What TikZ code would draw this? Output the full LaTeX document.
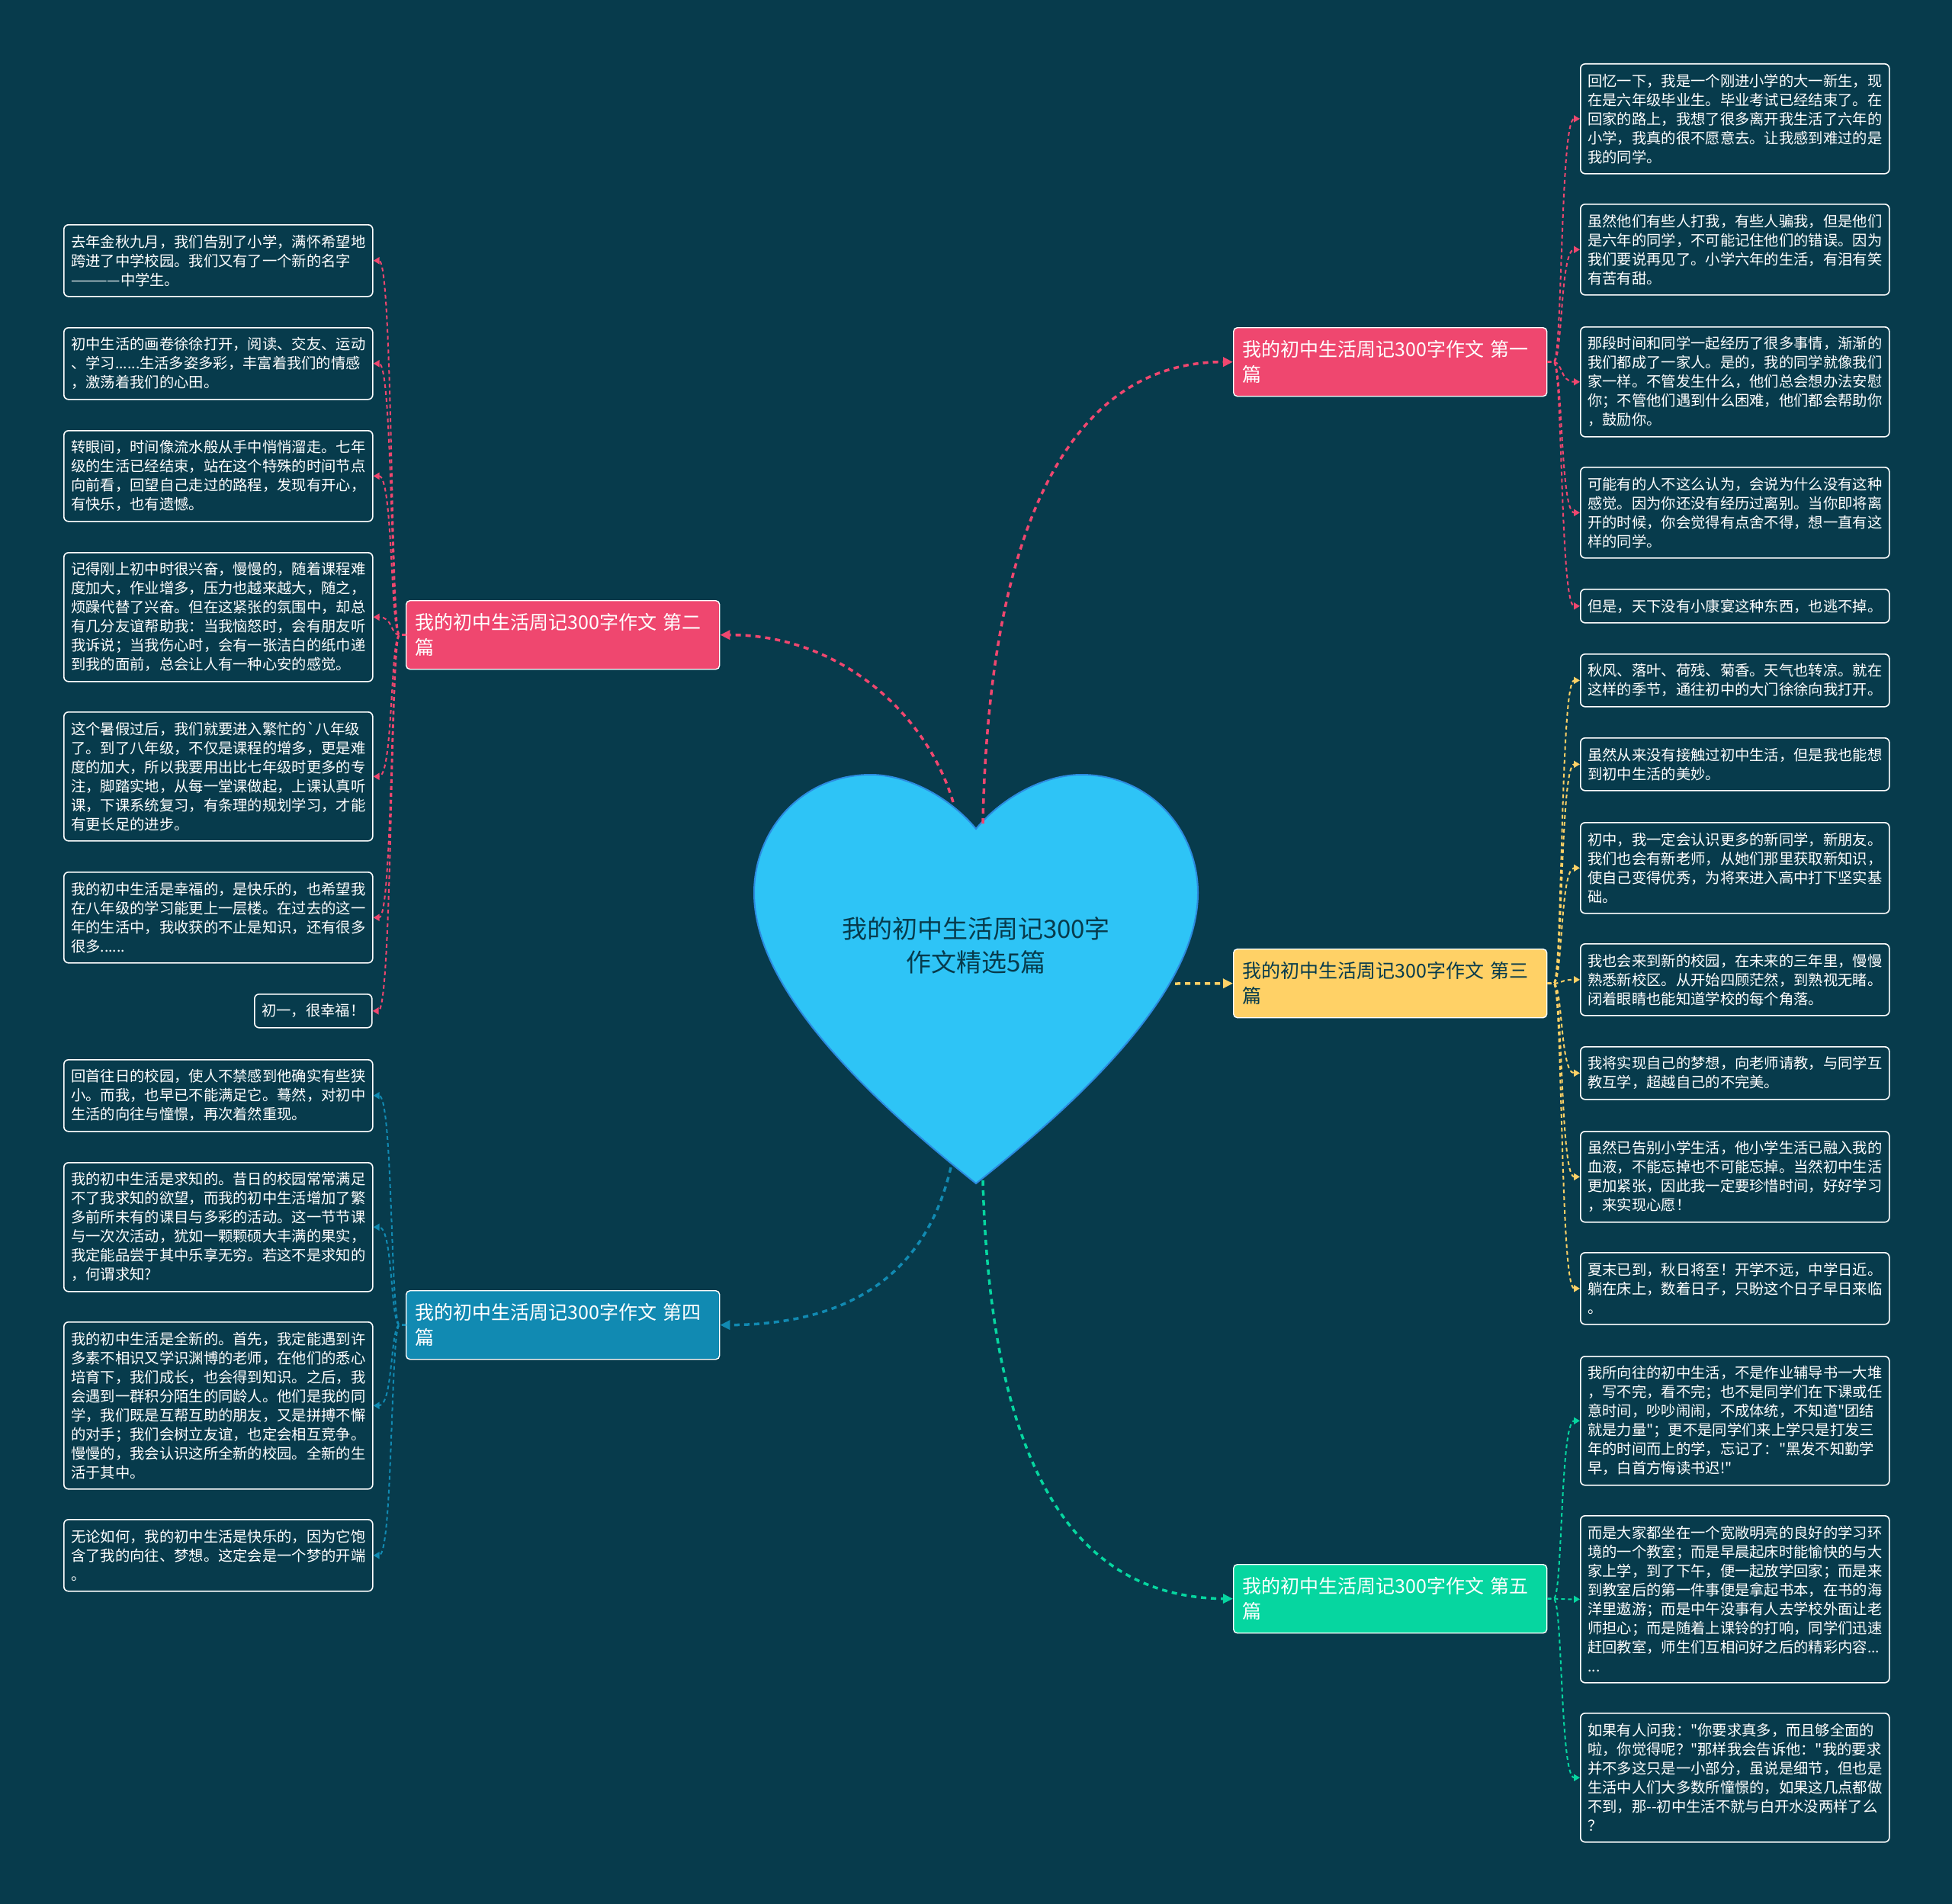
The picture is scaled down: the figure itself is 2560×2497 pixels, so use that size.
\documentclass[tikz,border=0pt]{standalone}
\usepackage{fontspec}
\setmainfont{Noto Sans CJK SC}[Ligatures=TeXOff]
\usetikzlibrary{arrows.meta}
\definecolor{bg}{HTML}{073B4C}
\definecolor{cpink}{HTML}{EF476F}
\definecolor{cyel}{HTML}{FFD166}
\definecolor{cgreen}{HTML}{06D6A0}
\definecolor{cblue}{HTML}{118AB2}
\definecolor{heartfill}{HTML}{2EC4F6}
\definecolor{heartline}{HTML}{2C8BE0}
\begin{document}
\begin{tikzpicture}[x=1pt,y=-1pt,
  leaf/.style={draw=white, line width=1.6pt, rounded corners=6pt, text=white,
    font=\fontsize{19.3pt}{25pt}\selectfont, align=left, anchor=north west,
    minimum width=405pt, minimum height={25*#1+19}, inner xsep=9pt, inner ysep=0pt},
  branch/.style={draw=white, line width=1.4pt, rounded corners=5pt, fill=#1, text=white,
    font=\fontsize{25pt}{33pt}\selectfont, align=left, anchor=north west,
    minimum width=411pt, minimum height=90pt, text width=387pt, inner xsep=12pt, inner ysep=0pt},
  hub/.style={line width=3.5pt, dash pattern=on 7pt off 6pt, -{Triangle[length=13pt,width=12pt]}},
  twig/.style={line width=2pt, dash pattern=on 5pt off 4pt, -{Triangle[length=8pt,width=9pt]}},
]
\fill[bg] (0,0) rectangle (2560,2497);
\useasboundingbox (0,0) rectangle (2560,2497);

% heart
\draw[fill=heartfill, draw=heartline, line width=2pt]
  (1280,1087) .. controls (1315,1045) and (1370,1016) .. (1418,1016)
  .. controls (1510,1016) and (1571,1090) .. (1571,1171)
  .. controls (1571,1290) and (1440,1425) .. (1280,1552)
  .. controls (1120,1425) and (989,1290) .. (989,1171)
  .. controls (989,1090) and (1050,1016) .. (1142,1016)
  .. controls (1190,1016) and (1245,1045) .. (1280,1087) -- cycle;
\node[text=bg, font=\fontsize{33pt}{44pt}\selectfont, align=center] (heart) at (1280,1240)
  {我的初中生活周记300字\\作文精选5篇};
\coordinate (h1) at (1289,1080);
\coordinate (h2) at (1250,1052);
\coordinate (h3) at (1541,1290);
\coordinate (h4) at (1247,1531);
\coordinate (h5) at (1289,1548);

% branches
\node[branch=cpink] (b1) at (1617,429) {我的初中生活周记300字作文 第一\\篇};
\node[branch=cpink] (b2) at (532,787) {我的初中生活周记300字作文 第二\\篇};
\node[branch=cyel, text=bg] (b3) at (1617,1244) {我的初中生活周记300字作文 第三\\篇};
\node[branch=cblue] (b4) at (532,1692) {我的初中生活周记300字作文 第四\\篇};
\node[branch=cgreen] (b5) at (1617,2051) {我的初中生活周记300字作文 第五\\篇};

% right leaves
\node[leaf=5] (r1) at (2072,83) {回忆一下，我是一个刚进小学的大一新生，现\\在是六年级毕业生。毕业考试已经结束了。在\\回家的路上，我想了很多离开我生活了六年的\\小学，我真的很不愿意去。让我感到难过的是\\我的同学。};
\node[leaf=4] (r2) at (2072,267) {虽然他们有些人打我，有些人骗我，但是他们\\是六年的同学，不可能记住他们的错误。因为\\我们要说再见了。小学六年的生活，有泪有笑\\有苦有甜。};
\node[leaf=5] (r3) at (2072,428) {那段时间和同学一起经历了很多事情，渐渐的\\我们都成了一家人。是的，我的同学就像我们\\家一样。不管发生什么，他们总会想办法安慰\\你；不管他们遇到什么困难，他们都会帮助你\\，鼓励你。};
\node[leaf=4] (r4) at (2072,612) {可能有的人不这么认为，会说为什么没有这种\\感觉。因为你还没有经历过离别。当你即将离\\开的时候，你会觉得有点舍不得，想一直有这\\样的同学。};
\node[leaf=1] (r5) at (2072,772) {但是，天下没有小康宴这种东西，也逃不掉。};
\node[leaf=2] (r6) at (2072,857) {秋风、落叶、荷残、菊香。天气也转凉。就在\\这样的季节，通往初中的大门徐徐向我打开。};
\node[leaf=2] (r7) at (2072,967) {虽然从来没有接触过初中生活，但是我也能想\\到初中生活的美妙。};
\node[leaf=4] (r8) at (2072,1078) {初中，我一定会认识更多的新同学，新朋友。\\我们也会有新老师，从她们那里获取新知识，\\使自己变得优秀，为将来进入高中打下坚实基\\础。};
\node[leaf=3] (r9) at (2072,1237) {我也会来到新的校园，在未来的三年里，慢慢\\熟悉新校区。从开始四顾茫然，到熟视无睹。\\闭着眼睛也能知道学校的每个角落。};
\node[leaf=2] (r10) at (2072,1372) {我将实现自己的梦想，向老师请教，与同学互\\教互学，超越自己的不完美。};
\node[leaf=4] (r11) at (2072,1483) {虽然已告别小学生活，他小学生活已融入我的\\血液，不能忘掉也不可能忘掉。当然初中生活\\更加紧张，因此我一定要珍惜时间，好好学习\\，来实现心愿！};
\node[leaf=3] (r12) at (2072,1642) {夏末已到，秋日将至！开学不远，中学日近。\\躺在床上，数着日子，只盼这个日子早日来临\\。};
\node[leaf=6] (r13) at (2072,1778) {我所向往的初中生活，不是作业辅导书一大堆\\，写不完，看不完；也不是同学们在下课或任\\意时间，吵吵闹闹，不成体统，不知道"团结\\就是力量"；更不是同学们来上学只是打发三\\年的时间而上的学，忘记了："黑发不知勤学\\早，白首方悔读书迟!"};
\node[leaf=8] (r14) at (2072,1987) {而是大家都坐在一个宽敞明亮的良好的学习环\\境的一个教室；而是早晨起床时能愉快的与大\\家上学，到了下午，便一起放学回家；而是来\\到教室后的第一件事便是拿起书本，在书的海\\洋里遨游；而是中午没事有人去学校外面让老\\师担心；而是随着上课铃的打响，同学们迅速\\赶回教室，师生们互相问好之后的精彩内容...\\...};
\node[leaf=6] (r15) at (2072,2246) {如果有人问我："你要求真多，而且够全面的\\啦，你觉得呢？"那样我会告诉他："我的要求\\并不多这只是一小部分，虽说是细节，但也是\\生活中人们大多数所憧憬的，如果这几点都做\\不到，那--初中生活不就与白开水没两样了么\\？};

% left leaves
\node[leaf=3] (l1) at (83,294) {去年金秋九月，我们告别了小学，满怀希望地\\跨进了中学校园。我们又有了一个新的名字\\————中学生。};
\node[leaf=3] (l2) at (83,429) {初中生活的画卷徐徐打开，阅读、交友、运动\\、学习......生活多姿多彩，丰富着我们的情感\\，激荡着我们的心田。};
\node[leaf=4] (l3) at (83,564) {转眼间，时间像流水般从手中悄悄溜走。七年\\级的生活已经结束，站在这个特殊的时间节点\\向前看，回望自己走过的路程，发现有开心，\\有快乐，也有遗憾。};
\node[leaf=6] (l4) at (83,724) {记得刚上初中时很兴奋，慢慢的，随着课程难\\度加大，作业增多，压力也越来越大，随之，\\烦躁代替了兴奋。但在这紧张的氛围中，却总\\有几分友谊帮助我：当我恼怒时，会有朋友听\\我诉说；当我伤心时，会有一张洁白的纸巾递\\到我的面前，总会让人有一种心安的感觉。};
\node[leaf=6] (l5) at (83,933) {这个暑假过后，我们就要进入繁忙的`八年级\\了。到了八年级，不仅是课程的增多，更是难\\度的加大，所以我要用出比七年级时更多的专\\注，脚踏实地，从每一堂课做起，上课认真听\\课，下课系统复习，有条理的规划学习，才能\\有更长足的进步。};
\node[leaf=4] (l6) at (83,1143) {我的初中生活是幸福的，是快乐的，也希望我\\在八年级的学习能更上一层楼。在过去的这一\\年的生活中，我收获的不止是知识，还有很多\\很多......};
\node[leaf=1, minimum width=154pt] (l7) at (333,1303) {初一，很幸福！};
\node[leaf=3] (l8) at (83,1389) {回首往日的校园，使人不禁感到他确实有些狭\\小。而我，也早已不能满足它。蓦然，对初中\\生活的向往与憧憬，再次着然重现。};
\node[leaf=6] (l9) at (83,1524) {我的初中生活是求知的。昔日的校园常常满足\\不了我求知的欲望，而我的初中生活增加了繁\\多前所未有的课目与多彩的活动。这一节节课\\与一次次活动，犹如一颗颗硕大丰满的果实，\\我定能品尝于其中乐享无穷。若这不是求知的\\，何谓求知?};
\node[leaf=8] (l10) at (83,1733) {我的初中生活是全新的。首先，我定能遇到许\\多素不相识又学识渊博的老师，在他们的悉心\\培育下，我们成长，也会得到知识。之后，我\\会遇到一群积分陌生的同龄人。他们是我的同\\学，我们既是互帮互助的朋友，又是拼搏不懈\\的对手；我们会树立友谊，也定会相互竞争。\\慢慢的，我会认识这所全新的校园。全新的生\\活于其中。};
\node[leaf=3] (l11) at (83,1992) {无论如何，我的初中生活是快乐的，因为它饱\\含了我的向往、梦想。这定会是一个梦的开端\\。};

% hub connectors
\draw[hub, cpink] (h1) .. controls (1298,640) and (1430,474) .. (b1.west);
\draw[hub, cpink] (h2) .. controls (1215,935) and (1100,832) .. (b2.east);
\draw[hub, cyel] (h3) -- (b3.west);
\draw[hub, cblue] (h4) .. controls (1210,1690) and (1090,1737) .. (b4.east);
\draw[hub, cgreen] (h5) .. controls (1300,1960) and (1430,2095) .. (b5.west);

% twigs right
\foreach \b/\c/\list in {b1/cpink/{r1,r2,r3,r4,r5}, b3/cyel/{r6,r7,r8,r9,r10,r11,r12}, b5/cgreen/{r13,r14,r15}}{
  \foreach \r in \list {
    \draw[twig, \c] (\b.east) -- ++(8,0) .. controls +(12,0) and ([xshift=-26pt]\r.west) .. (\r.west);
  }
}
% twigs left
\foreach \b/\c/\list in {b2/cpink/{l1,l2,l3,l4,l5,l6,l7}, b4/cblue/{l8,l9,l10,l11}}{
  \foreach \r in \list {
    \draw[twig, \c] (\b.west) -- ++(-8,0) .. controls +(-12,0) and ([xshift=26pt]\r.east) .. (\r.east);
  }
}
\end{tikzpicture}
\end{document}
